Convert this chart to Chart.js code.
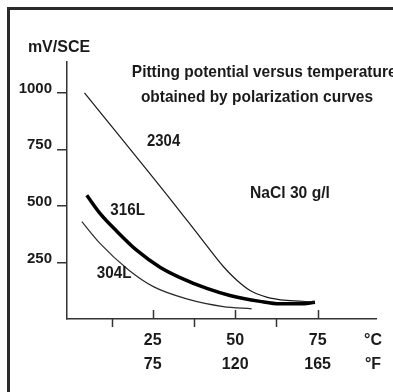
<!DOCTYPE html>
<html><head><meta charset="utf-8">
<script src="https://cdn.jsdelivr.net/npm/chart.js@4/dist/chart.umd.min.js"></script>
<style>
html,body{margin:0;padding:0;background:#fff;width:393px;height:392px;overflow:hidden}
#wrap{position:relative;width:393px;height:392px}
#frame{position:absolute;left:7px;top:7px;width:400px;height:400px;border-top:3px solid #2b2b2b;border-left:3px solid #2b2b2b;pointer-events:none}
canvas{position:absolute;left:0;top:0}
</style></head><body>
<div id="wrap"><canvas id="c" width="393" height="392"></canvas><div id="frame"></div></div>
<script>
// Data (°C, mV/SCE)
const temps2304 = [4.3, 30.5, 39.3, 46.4, 50.5, 54.5, 59.5, 65.6, 74.2];
const mv2304    = [1000, 527, 363, 232, 171, 126, 97, 82, 76];
const temps316L = [5.0, 9.0, 14.1, 20.2, 27.2, 33.3, 41.4, 48.4, 57.5, 63.6, 69.6, 74.2];
const mv316L    = [547, 467, 388, 303, 229, 183, 135, 104, 78, 67, 67, 74];
const temps304L = [3.5, 9.0, 17.5, 25.2, 35.3, 46.4, 55.0];
const mv304L    = [430, 334, 219, 143, 89, 55, 45];

// Axis ticks
const yTicks = [250, 500, 750, 1000];
const xMajorC = [25, 50, 75];
const xLabelsF = ['75', '120', '165'];
const xMinorC = [12.5, 37.5, 62.5];
const unitTickC = 91.8;
const unitLabels = ['°C', '°F'];

// Text annotations (placed in data units)
const notes = [
  {text: 'Pitting potential versus temperature', x: 58.8, y: 1092, size: 17, sx: 0.91},
  {text: 'obtained by polarization curves', x: 56.6, y: 981, size: 17, sx: 0.91},
  {text: '2304', x: 28.3, y: 782, size: 16, sx: 0.93},
  {text: 'NaCl 30 g/l', x: 66.6, y: 556, size: 17, sx: 0.92},
  {text: '316L', x: 17.4, y: 481, size: 16, sx: 0.95},
  {text: '304L', x: 13.3, y: 202, size: 16, sx: 0.95}
];
const yTitle = 'mV/SCE';

const toPts = (xs, ys) => xs.map((x, i) => ({x: x, y: ys[i]}));
const FONT = "'Liberation Sans', Arial, sans-serif";
const INK = '#1a1a1a';

const deco = {
  id: 'deco',
  afterDraw(chart) {
    const ctx = chart.ctx, xs = chart.scales.x, ys = chart.scales.y;
    const base = ys.getPixelForValue(0);
    ctx.save();
    ctx.strokeStyle = '#333';
    ctx.lineWidth = 1.5;
    xMajorC.forEach(v => {
      const px = Math.round(xs.getPixelForValue(v)) + 0.5;
      ctx.beginPath(); ctx.moveTo(px, base); ctx.lineTo(px, base - 9); ctx.stroke();
    });
    xMinorC.forEach(v => {
      const px = Math.round(xs.getPixelForValue(v)) + 0.5;
      ctx.beginPath(); ctx.moveTo(px, base); ctx.lineTo(px, base + 8); ctx.stroke();
    });
    ctx.fillStyle = INK;
    ctx.textAlign = 'center';
    ctx.textBaseline = 'middle';
    notes.forEach(n => {
      ctx.save();
      ctx.font = 'bold ' + n.size + 'px ' + FONT;
      ctx.translate(xs.getPixelForValue(n.x), ys.getPixelForValue(n.y));
      ctx.scale(n.sx, 1);
      ctx.fillText(n.text, 0, 0);
      ctx.restore();
    });
    ctx.font = 'bold 16px ' + FONT;
    ctx.fillText(yTitle, chart.chartArea.left - 8, chart.chartArea.top - 14);
    ctx.restore();
  }
};

new Chart(document.getElementById('c'), {
  type: 'line',
  data: {
    datasets: [
      {label: '2304', data: toPts(temps2304, mv2304), borderColor: '#1a1a1a', borderWidth: 1.2, cubicInterpolationMode: 'monotone'},
      {label: '316L', data: toPts(temps316L, mv316L), borderColor: '#000', borderWidth: 3.5, cubicInterpolationMode: 'monotone'},
      {label: '304L', data: toPts(temps304L, mv304L), borderColor: '#2a2a2a', borderWidth: 1.2, cubicInterpolationMode: 'monotone'}
    ]
  },
  options: {
    responsive: false,
    animation: false,
    devicePixelRatio: 1,
    elements: {point: {radius: 0}},
    layout: {padding: {left: 0, top: 62, right: 17, bottom: 0}},
    plugins: {legend: {display: false}, tooltip: {enabled: false}},
    scales: {
      x: {
        type: 'linear', min: -1, max: 92.7,
        afterBuildTicks: s => { s.ticks = xMajorC.concat([unitTickC]).map(v => ({value: v})); },
        afterFit: s => { s.height = 73; },
        border: {display: true, color: '#333', width: 1.5},
        grid: {display: false, drawTicks: false},
        ticks: {
          autoSkip: false, maxRotation: 0, padding: 10, color: INK,
          font: {family: FONT, size: 16, weight: 'bold', lineHeight: 1.5},
          callback: (v, i) => i < xMajorC.length ? [String(xMajorC[i]), xLabelsF[i]] : unitLabels
        }
      },
      y: {
        type: 'linear', min: 0, max: 1136,
        afterBuildTicks: s => { s.ticks = yTicks.map(v => ({value: v})); },
        afterFit: s => { s.width = 67; },
        border: {display: true, color: '#333', width: 1.5},
        grid: {display: true, drawOnChartArea: false, drawTicks: true, tickLength: 10, color: '#333', lineWidth: 1.5},
        ticks: {padding: 5, labelOffset: -4, color: INK, font: {family: FONT, size: 15, weight: 'bold'},
          callback: v => String(v)}
      }
    }
  },
  plugins: [deco]
});
</script>
</body></html>
